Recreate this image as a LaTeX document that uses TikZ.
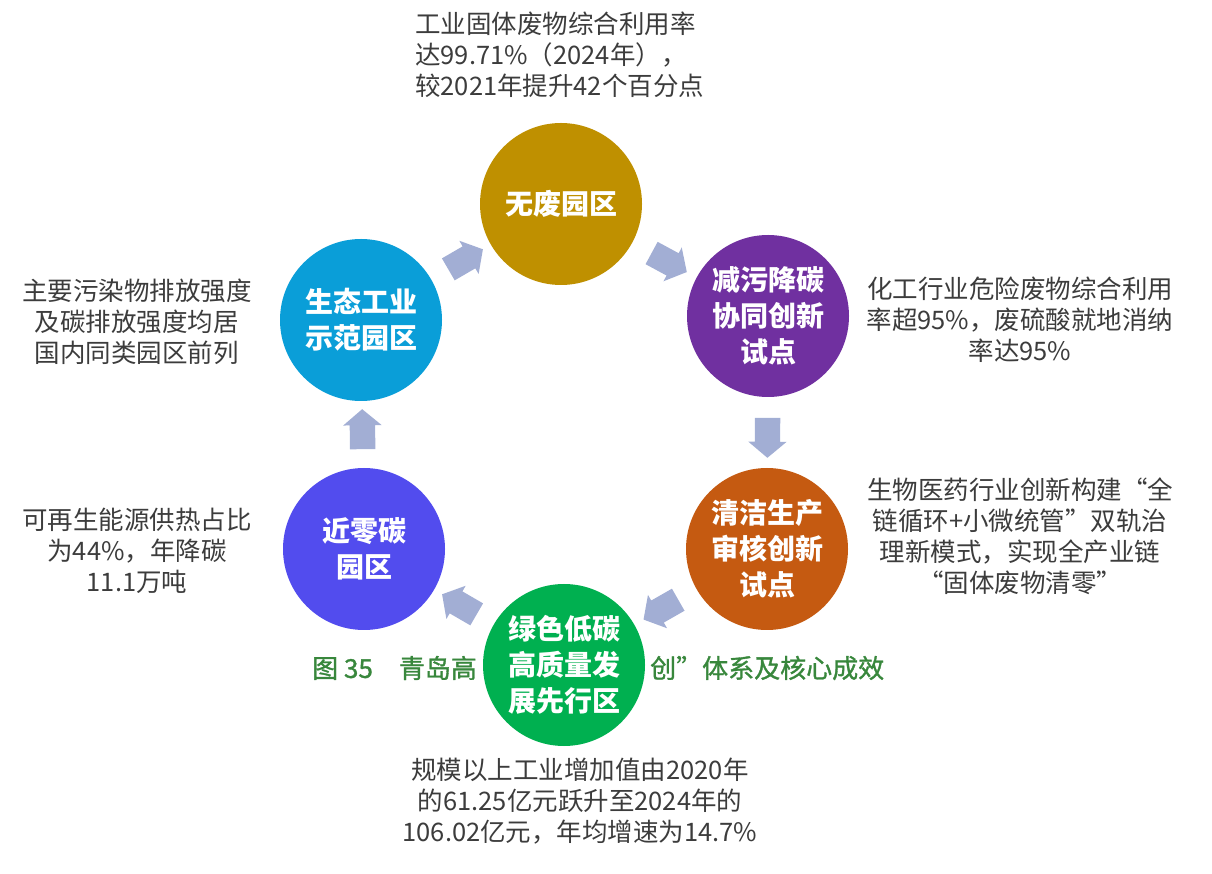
\documentclass[tikz,border=0pt]{standalone}
\usepackage{fontspec}
\setmainfont{Noto Sans CJK SC}
\newfontfamily\capfont{Noto Sans CJK SC}[FakeBold=1.2]
\usepackage{tikz}
\usetikzlibrary{shapes.arrows,calc}
\definecolor{parkgold}{RGB}{191,144,0}
\definecolor{parkpurple}{RGB}{112,48,160}
\definecolor{parkorange}{RGB}{197,90,17}
\definecolor{parkgreen}{RGB}{0,176,80}
\definecolor{parkviolet}{RGB}{82,76,238}
\definecolor{parkcyan}{RGB}{10,158,216}
\definecolor{flowblue}{RGB}{162,174,212}
\definecolor{notegray}{RGB}{60,60,60}
\definecolor{captiongreen}{RGB}{56,135,60}

\begin{document}
\begin{tikzpicture}[x=1pt,y=1pt,
  hub/.style={circle,minimum size=162pt,inner sep=0pt,align=center,text=white,
    font=\fontsize{28}{36}\selectfont\bfseries},
  note/.style={align=center,inner sep=0pt,text=notegray,
    font=\fontsize{25.5}{31}\selectfont},
  caption/.style={anchor=west,inner sep=0pt,text=captiongreen,
    font=\fontsize{26}{30}\selectfont\capfont},
  flow/.style={single arrow,fill=flowblue,draw=none,inner xsep=0pt,inner ysep=12.5pt,
    minimum height=40pt,single arrow head extend=6.5pt,
    single arrow tip angle=100,sloped,allow upside down}]
  \useasboundingbox (0,0) rectangle (1212,873);
  % caption, partly hidden by the green circle
  \node[caption] (capleft) at (312,205) {图 35\quad 青岛高};
  \node[caption] (capright) at (650,205) {创”体系及核心成效};
  % the six parks
  \node[hub,fill=parkgold] (wufei) at (561,669) {无废园区};
  \node[hub,fill=parkpurple] (jianwu) at (768,557) {减污降碳\\协同创新\\试点};
  \node[hub,fill=parkorange] (qingjie) at (767,324) {清洁生产\\审核创新\\试点};
  \node[hub,fill=parkgreen] (lvse) at (564,208) {绿色低碳\\高质量发\\展先行区};
  \node[hub,fill=parkviolet] (jinling) at (364,324) {近零碳\\园区};
  \node[hub,fill=parkcyan] (shengtai) at (361,553) {生态工业\\示范园区};
  % cycle arrows
  \path (shengtai) -- node[flow] (f1) {} (wufei);
  \path (wufei) -- node[flow] (f2) {} (jianwu);
  \path (jianwu) -- node[flow] (f3) {} (qingjie);
  \path (qingjie) -- node[flow] (f4) {} (lvse);
  \path (lvse) -- node[flow] (f5) {} (jinling);
  \path (jinling) -- node[flow] (f6) {} (shengtai);
  % results
  \node[note,align=left,anchor=west] (notewufei) at (415,818) {工业固体废物综合利用率\\达99.71\%（2024年），\\较2021年提升42个百分点};
  \node[note] (notejianwu) at (1020,553) {化工行业危险废物综合利用\\率超95\%，废硫酸就地消纳\\率达95\%};
  \node[note] (noteqingjie) at (1020,337) {生物医药行业创新构建“全\\链循环+小微统管”双轨治\\理新模式，实现全产业链\\“固体废物清零”};
  \node[note] (notelvse) at (580,72) {规模以上工业增加值由2020年\\的61.25亿元跃升至2024年的\\106.02亿元，年均增速为14.7\%};
  \node[note] (notejinling) at (137,322) {可再生能源供热占比\\为44\%，年降碳\\11.1万吨};
  \node[note] (noteshengtai) at (137,551) {主要污染物排放强度\\及碳排放强度均居\\国内同类园区前列};
\end{tikzpicture}
\end{document}
